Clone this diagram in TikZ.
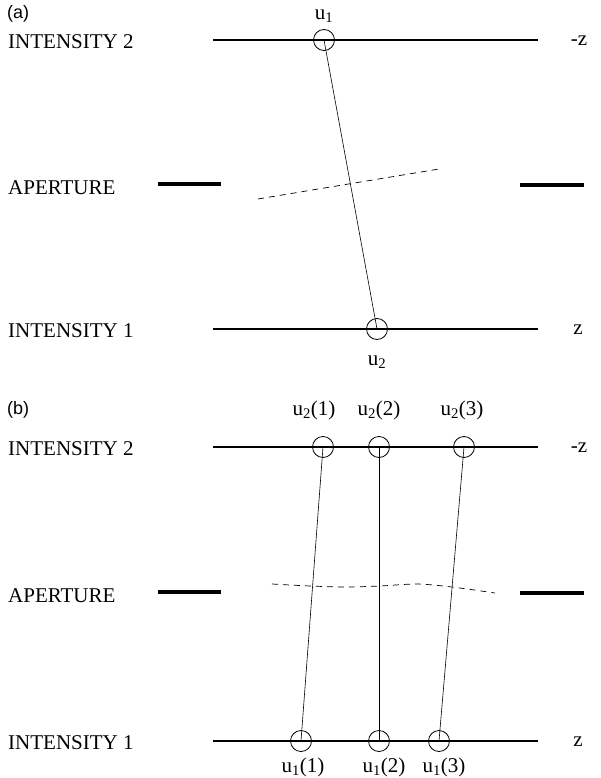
\documentclass[tikz,border=0pt]{standalone}
\usepackage{fontspec}
\setmainfont{Liberation Serif}
\newfontfamily\panelfont{Liberation Sans}
\usetikzlibrary{positioning}

\begin{document}
\begin{tikzpicture}[x=1pt, y=-1pt,
  every node/.style={inner sep=0pt, font=\fontsize{21}{23}\selectfont},
  ring/.style={circle, draw, line width=0.8pt, minimum size=21pt},
  plane/.style={line width=1.2pt},
  ray/.style={line width=0.6pt},
  stopbar/.style={line width=4pt},
  tilt/.style={dash pattern=on 6pt off 5pt, line width=0.7pt},
  panel/.style={anchor=west, font=\panelfont\fontsize{18}{20}\selectfont}]

\useasboundingbox (0,0) rectangle (601,778);

% ---------------- panel (a)
\node[panel] (pa) at (7,14) {(a)};
\node[anchor=west] (i2a) at (8,42) {INTENSITY 2};
\node[anchor=west] (apa) at (8,188) {APERTURE};
\node[anchor=west] (i1a) at (8,331) {INTENSITY 1};

% planes
\coordinate (a2l) at (213,40);  \coordinate (a2r) at (538,40);
\coordinate (a1l) at (213,329); \coordinate (a1r) at (538,329);
\draw[plane] (a2l) -- (a2r);
\draw[plane] (a1l) -- (a1r);
\node (mza) at (579,41) {-z};
\node (za) at (578,330) {z};

% aperture stops and tilted plane
\draw[stopbar] (158,184) -- (221,184);
\draw[stopbar] (520,185) -- (584,185);
\coordinate (tal) at (258,199); \coordinate (tar) at (439,169);
\draw[tilt] (tal) -- (tar);

% points
\node[ring] (u1) at (324,40) {};
\node[ring] (u2) at (377,329) {};
\node (u1l) at (324,16) {u\textsubscript{1}};
\node (u2l) at (377,362) {u\textsubscript{2}};
\draw[ray] (u1.center) -- (u2.center);

% ---------------- panel (b)
\node[panel] (pb) at (7,410) {(b)};
\node[anchor=west] (i2b) at (8,449) {INTENSITY 2};
\node[anchor=west] (apb) at (8,596) {APERTURE};
\node[anchor=west] (i1b) at (8,743) {INTENSITY 1};

% planes
\coordinate (b2l) at (213,447); \coordinate (b2r) at (538,447);
\coordinate (b1l) at (213,741); \coordinate (b1r) at (538,741);
\draw[plane] (b2l) -- (b2r);
\draw[plane] (b1l) -- (b1r);
\node (mzb) at (579,448) {-z};
\node (zb) at (578,742) {z};

% aperture stops and wavy plane
\draw[stopbar] (158,592) -- (221,592);
\draw[stopbar] (520,593) -- (584,593);
\draw[tilt] plot[smooth] coordinates {(272,584) (310,586) (345,587) (380,586) (417,584) (452,587) (495,593)};

% points on intensity 2
\node[ring] (t1) at (323,447) {};
\node[ring] (t2) at (379,447) {};
\node[ring] (t3) at (464,447) {};
\node (t1l) at (314,410) {u\textsubscript{2}(1)};
\node (t2l) at (379,410) {u\textsubscript{2}(2)};
\node (t3l) at (462,410) {u\textsubscript{2}(3)};

% points on intensity 1
\node[ring] (b1) at (301,741) {};
\node[ring] (b2) at (379,741) {};
\node[ring] (b3) at (439,741) {};
\node (b1l) at (303,767) {u\textsubscript{1}(1)};
\node (b2l) at (384,767) {u\textsubscript{1}(2)};
\node (b3l) at (444,767) {u\textsubscript{1}(3)};

\draw[ray] (t1.center) -- (b1.center);
\draw[ray] (t2.center) -- (b2.center);
\draw[ray] (t3.center) -- (b3.center);
\end{tikzpicture}
\end{document}
